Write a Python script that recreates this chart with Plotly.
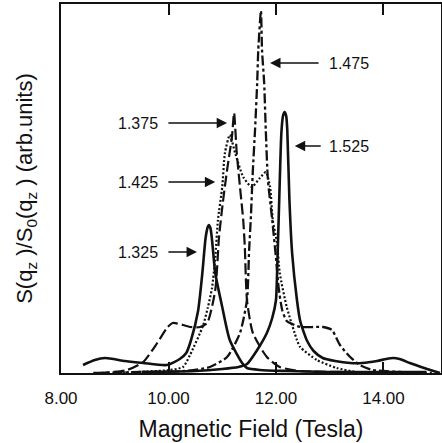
import plotly.graph_objects as go

# Field values (Tesla) and intensities (arb. units)
b_1325 = [8.41, 8.63, 8.82, 9.19, 9.53, 9.97, 10.21, 10.33, 10.42, 10.55, 10.63, 10.69, 10.73, 10.75, 10.78, 10.81, 10.87, 11.0, 11.14, 11.37, 11.46, 11.7, 12.2, 13.0, 14.0, 14.8]
s_1325 = [8, 13, 15, 12, 10, 8, 14, 20, 33, 62, 100, 135, 146, 148, 145, 133, 100, 66, 33, 10, 5, 3, 2, 1, 1, 1]

b_1525 = [9.5, 10.5, 11.0, 11.3, 11.46, 11.65, 11.83, 11.93, 12.0, 12.02, 12.06, 12.10, 12.13, 12.16, 12.19, 12.21, 12.25, 12.30, 12.39, 12.45, 12.58, 12.7, 12.87, 13.1, 13.38, 13.6, 13.88, 14.05, 14.18, 14.3, 14.49, 14.7, 14.87, 15.05]
s_1525 = [1, 2, 4, 6, 9, 23, 40, 55, 73, 100, 173, 240, 257, 261, 257, 243, 173, 120, 73, 52, 32, 22, 15, 12, 10, 10, 12, 14, 15, 14, 10, 6, 3, 0]

b_1375 = [8.7, 8.97, 9.23, 9.53, 9.79, 9.97, 10.08, 10.27, 10.40, 10.59, 10.72, 10.87, 10.94, 11.01, 11.09, 11.18, 11.22, 11.27, 11.33, 11.39, 11.42, 11.46, 11.57, 11.83, 12.07, 12.45, 13.5, 14.6]
s_1375 = [0, 1, 3, 11, 30, 45, 50, 48, 46, 46, 50, 83, 136, 170, 203, 236, 260, 220, 186, 153, 126, 73, 40, 16, 6, 2, 1, 1]

b_1425 = [9.0, 9.41, 10.03, 10.27, 10.40, 10.64, 10.73, 10.81, 10.87, 10.92, 11.0, 11.05, 11.14, 11.24, 11.39, 11.55, 11.70, 11.81, 11.89, 11.94, 12.02, 12.07, 12.20, 12.39, 12.45, 12.76, 13.13, 13.5, 14.5]
s_1425 = [0, 1, 3, 6, 18, 47, 65, 85, 115, 153, 186, 220, 238, 220, 196, 186, 195, 201, 186, 153, 130, 100, 66, 33, 26, 13, 5, 1, 1]

b_1475 = [8.6, 9.5, 10.3, 10.77, 11.09, 11.33, 11.46, 11.50, 11.53, 11.57, 11.61, 11.65, 11.67, 11.72, 11.74, 11.78, 11.81, 11.85, 11.93, 12.0, 12.05, 12.12, 12.2, 12.26, 12.45, 12.87, 13.04, 13.19, 13.38, 13.56, 13.8, 14.3, 14.9]
s_1475 = [0, 1, 2, 6, 16, 40, 73, 123, 153, 203, 243, 290, 323, 362, 323, 290, 243, 193, 153, 115, 85, 62, 52, 50, 46, 46, 43, 28, 16, 8, 3, 1, 0]

labels = ["1.325", "1.375", "1.425", "1.475", "1.525"]
tick_vals = [8, 10, 12, 14]
tick_text = ["8.00", "10.00", "12.00", "14.00"]

fig = go.Figure()
ink = "#111111"
fig.add_trace(go.Scatter(x=b_1325, y=s_1325, mode="lines", line=dict(color=ink, width=2.6, shape="spline", smoothing=0.6), name=labels[0]))
fig.add_trace(go.Scatter(x=b_1525, y=s_1525, mode="lines", line=dict(color=ink, width=2.6, shape="spline", smoothing=0.6), name=labels[4]))
fig.add_trace(go.Scatter(x=b_1375, y=s_1375, mode="lines", line=dict(color=ink, width=2.2, dash="11px,4px", shape="spline", smoothing=0.6), name=labels[1]))
fig.add_trace(go.Scatter(x=b_1425, y=s_1425, mode="lines", line=dict(color=ink, width=2.2, dash="2px,2px", shape="spline", smoothing=0.6), name=labels[2]))
fig.add_trace(go.Scatter(x=b_1475, y=s_1475, mode="lines", line=dict(color=ink, width=2.3, dash="10px,3px,3px,3px", shape="spline", smoothing=0.6), name=labels[3]))

# label annotations: (text, text_x, y, arrow_tail_x, arrow_tip_x)
ann_specs = [
    (labels[3], 13.36, 310, 12.82, 11.89),
    (labels[1], 9.43, 250, 9.97, 11.09),
    (labels[4], 13.36, 227, 12.86, 12.35),
    (labels[2], 9.43, 191, 9.97, 10.87),
    (labels[0], 9.43, 121, 9.97, 10.53),
]
annotations = []
for txt, tx, ty, tail, tip in ann_specs:
    annotations.append(dict(x=tx, y=ty, xref="x", yref="y", text=txt, showarrow=False,
                            font=dict(family="Liberation Sans, Arial", size=16, color=ink)))
    annotations.append(dict(x=tip, y=ty, ax=tail, ay=ty, xref="x", yref="y", axref="x", ayref="y",
                            text="", showarrow=True, arrowhead=2, arrowsize=1.3, arrowwidth=1.6,
                            arrowcolor=ink))

fig.update_layout(
    width=442, height=443,
    margin=dict(l=61, r=1, t=4, b=70, autoexpand=False),
    paper_bgcolor="white", plot_bgcolor="white",
    showlegend=False,
    annotations=annotations,
    font=dict(family="Liberation Sans, Arial", color=ink),
)
fig.update_xaxes(range=[8, 15.07], tickvals=tick_vals, ticktext=tick_text,
                 ticks="inside", ticklen=11, tickwidth=1.5, tickcolor=ink,
                 showline=True, linewidth=2, linecolor=ink, mirror="ticks",
                 showgrid=False, zeroline=False, tickfont=dict(size=17),
                 ticklabelstandoff=9, automargin=False,
                 title=dict(text="Magnetic Field (Tesla)", font=dict(size=23), standoff=13))
fig.update_yaxes(range=[0, 369], showticklabels=False, ticks="",
                 showline=True, linewidth=2, linecolor=ink, mirror=True,
                 showgrid=False, zeroline=False, automargin=False,
                 title=dict(text="S(q<sub>z</sub> )/S<sub>0</sub>(q<sub>z</sub> ) (arb.units)", font=dict(size=22), standoff=20))

fig.write_html("out.html", config={"displayModeBar": False},
               post_script="document.body.style.margin='0';document.body.style.overflow='hidden';")
